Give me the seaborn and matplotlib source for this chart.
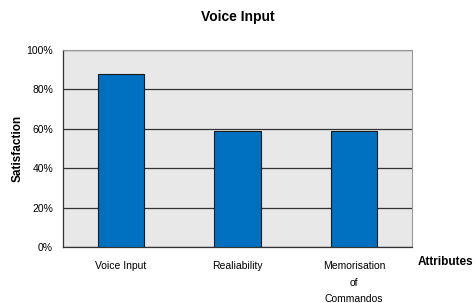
import pandas as pd
import numpy as np
import matplotlib.pyplot as plt
import seaborn as sns

# =========================
# DATA
# =========================

attributes = ["Voice Input", "Realiability", "Memorisation\nof\nCommandos"]
satisfaction = [88, 59, 59]

df = pd.DataFrame({"attribute": attributes, "satisfaction": satisfaction})

# =========================
# STYLE
# =========================

sns.set_style("white")
plt.rcParams["font.family"] = ["Liberation Sans", "DejaVu Sans"]
plt.rcParams["text.color"] = "black"
plt.rcParams["xtick.color"] = "black"
plt.rcParams["ytick.color"] = "black"
plt.rcParams["axes.labelcolor"] = "black"

fig = plt.figure(figsize=(4.76, 3.03), dpi=100)
ax = fig.add_axes([0.132, 0.185, 0.734, 0.65])

ax.set_facecolor("#e8e8e8")

sns.barplot(
    data=df,
    x="attribute",
    y="satisfaction",
    color="#0070c0",
    saturation=1,
    width=0.4,
    edgecolor="#1a1a1a",
    linewidth=0.8,
    ax=ax,
    zorder=3
)

ax.set_xlim(-0.5, 2.5)
ax.set_ylim(0, 100)

# gridlines
ax.set_yticks(np.arange(0, 101, 20))
ax.set_yticklabels([f"{v}%" for v in range(0, 101, 20)], fontsize=7.5)
ax.yaxis.grid(True, color="#333333", linewidth=0.9, zorder=1)
ax.set_axisbelow(True)

# x ticks: labels at centers, tick marks at boundaries
ax.set_xticks(range(len(attributes)))
ax.set_xticklabels(attributes, fontsize=7.5, linespacing=1.85)
ax.tick_params(axis="x", which="major", length=0, pad=10)
ax.set_xticks([-0.5, 0.5, 1.5], minor=True)
ax.tick_params(axis="x", which="minor", length=4, width=0.8, color="#333333", direction="out")
ax.tick_params(axis="y", length=5, width=0.8, color="#333333", direction="out", pad=2)

for side in ["left", "bottom"]:
    ax.spines[side].set_color("#333333")
    ax.spines[side].set_linewidth(0.9)
for side in ["top", "right"]:
    ax.spines[side].set_color("#999999")
    ax.spines[side].set_linewidth(0.8)

ax.set_xlabel("")
ax.set_ylabel("Satisfaction", fontsize=8.5, fontweight="bold", labelpad=2)

fig.text(0.5, 0.945, "Voice Input", ha="center", va="center",
         fontsize=10, fontweight="bold")
fig.text(0.878, 0.135, "Attributes", ha="left", va="center",
         fontsize=8.5, fontweight="bold")

plt.savefig("out.png", dpi=100)
